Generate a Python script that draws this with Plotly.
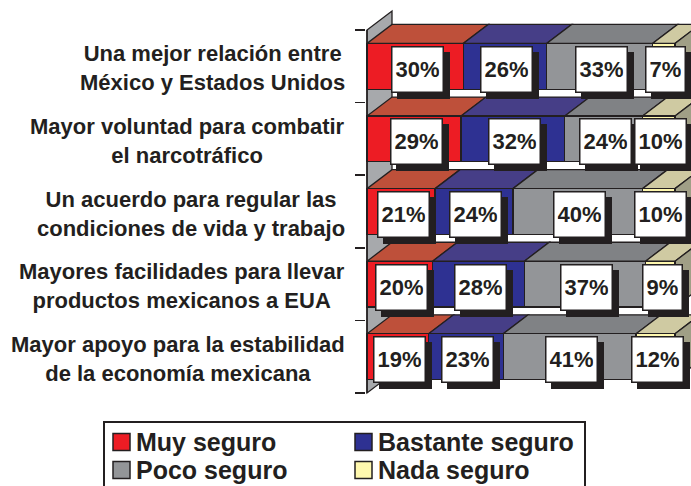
import plotly.graph_objects as go

# ---------------- data ----------------
categories = [
    "Una mejor relación entre<br>México y Estados Unidos",
    "Mayor voluntad para combatir<br>el narcotráfico",
    "Un acuerdo para regular las<br>condiciones de vida y trabajo",
    "Mayores facilidades para llevar<br>productos mexicanos a EUA",
    "Mayor apoyo para la estabilidad<br>de la economía mexicana",
]
series_names = ["Muy seguro", "Bastante seguro", "Poco seguro", "Nada seguro"]
muy_seguro = [30, 29, 21, 20, 19]
bastante_seguro = [26, 32, 24, 28, 23]
poco_seguro = [33, 24, 40, 37, 41]
nada_seguro = [7, 10, 10, 9, 12]

# ---------------- styles ----------------
front_colors = ["#ED1C24", "#2E3192", "#939598", "#FFF8AE"]
top_colors = ["#BE503A", "#463E87", "#808285", "#CFCAA2"]
side_color = "#A09F86"
wall_color = "#A7A9AC"
ink = "#231F20"
FONT = "Liberation Sans, Arial, sans-serif"

W, H = 691, 486
L_MARGIN, T_MARGIN = 366, 5
PLOT_W = W - L_MARGIN
PLOT_H = 395
PX_X = 3.08          # pixels per percent unit
PX_Y = 72.6          # pixels per category
X0_PX = 367          # pixel of 0 %
Y_TOP_PX = 30        # pixel of category boundary -0.5
xr = [-(X0_PX - L_MARGIN) / PX_X, (W - X0_PX) / PX_X]
yr = [-0.5 - (Y_TOP_PX - T_MARGIN) / PX_Y, None]
yr[1] = yr[0] + PLOT_H / PX_Y

BAR_W = 0.63
DX = 25 / PX_X       # depth offset in data units
DY = 19 / PX_Y

series = [muy_seguro, bastante_seguro, poco_seguro, nada_seguro]
n = len(categories)
ypos = list(range(n))

fig = go.Figure()
for name, vals, col in zip(series_names, series, front_colors):
    fig.add_trace(go.Bar(
        y=ypos, x=vals, orientation="h", name=name, width=BAR_W,
        marker=dict(color=col, line=dict(color=ink, width=1.3)),
        showlegend=False, hoverinfo="skip",
    ))

shapes = []
# left wall
shapes.append(dict(type="path", xref="x", yref="y", layer="below",
                   path=f"M0,{-0.5} L0,{n-0.5} L{DX},{n-0.5-DY} L{DX},{-0.5-DY} Z",
                   fillcolor=wall_color, line=dict(color=ink, width=1.3)))

annotations = []
for i in range(n):
    vals = [s[i] for s in series]
    tot = sum(vals)
    cum = 0.0
    yt = i - BAR_W / 2
    yb = i + BAR_W / 2
    for k, v in enumerate(vals):
        a = cum / tot * 100
        b = (cum + v) / tot * 100
        cum += v
        shapes.append(dict(type="path", xref="x", yref="y", layer="below",
                           path=f"M{a},{yt} L{b},{yt} L{b+DX},{yt-DY} L{a+DX},{yt-DY} Z",
                           fillcolor=top_colors[k], line=dict(color=ink, width=1.3)))
        if k == len(vals) - 1:
            shapes.append(dict(type="path", xref="x", yref="y", layer="below",
                               path=f"M{b},{yt} L{b},{yb} L{b+DX},{yb-DY} L{b+DX},{yt-DY} Z",
                               fillcolor=side_color, line=dict(color=ink, width=1.3)))
        mid = (a + b) / 2
        txt = f"{v}%"
        common = dict(x=mid, y=i, xref="x", yref="y", text=txt, showarrow=False,
                      font=dict(family=FONT, size=22, color=ink, weight="bold"),
                      borderwidth=1.5, borderpad=3, height=38)
        annotations.append(dict(common, bgcolor=ink, bordercolor=ink,
                                xshift=2 + 6, yshift=-3 - 6))
        annotations.append(dict(common, bgcolor="white", bordercolor=ink,
                                xshift=2, yshift=-3))

# front axis line
shapes.append(dict(type="line", xref="x", yref="y", x0=0, x1=0, y0=-0.5, y1=n - 0.5,
                   line=dict(color=ink, width=1.5), layer="above"))

# category labels
def paper_x(px):
    return (px - L_MARGIN) / PLOT_W

def paper_y(py):
    return (T_MARGIN + PLOT_H - py) / PLOT_H

for i, c in enumerate(categories):
    annotations.append(dict(x=paper_x(347), y=i, xref="paper", yref="y", text=c,
                            showarrow=False, xanchor="right", yanchor="middle",
                            align="center", yshift=-2,
                            font=dict(family=FONT, size=22, color=ink, weight="bold")))

# legend (manual)
shapes.append(dict(type="rect", xref="paper", yref="paper",
                   x0=paper_x(104), x1=paper_x(585), y0=paper_y(422), y1=paper_y(492),
                   line=dict(color=ink, width=2), fillcolor="white", layer="above"))
leg_pos = [(113, 442), (355, 442), (113, 470), (355, 470)]
for (lx, ly), name, col in zip(leg_pos, series_names, front_colors):
    shapes.append(dict(type="rect", xref="paper", yref="paper",
                       x0=paper_x(lx), x1=paper_x(lx + 17),
                       y0=paper_y(ly - 8.5), y1=paper_y(ly + 8.5),
                       fillcolor=col, line=dict(color=ink, width=1.5), layer="above"))
    annotations.append(dict(x=paper_x(lx + 21), y=paper_y(ly), xref="paper", yref="paper",
                            text=name, showarrow=False, xanchor="left", yanchor="middle",
                            font=dict(family=FONT, size=25, color=ink, weight="bold")))

fig.update_layout(
    width=W, height=H,
    margin=dict(l=L_MARGIN, r=0, t=T_MARGIN, b=H - T_MARGIN - PLOT_H, pad=0),
    paper_bgcolor="white", plot_bgcolor="rgba(0,0,0,0)",
    barmode="stack", barnorm="percent", bargap=0,
    showlegend=False,
    xaxis=dict(range=xr, visible=False, fixedrange=True),
    yaxis=dict(range=[yr[1], yr[0]], showgrid=False, zeroline=False, showline=False,
               tickmode="array", tickvals=[i - 0.5 for i in range(n + 1)],
               ticktext=[""] * (n + 1), ticks="outside", ticklen=10,
               tickcolor=ink, tickwidth=1.5, automargin=False, fixedrange=True),
    shapes=shapes, annotations=annotations,
)

fig.write_html(
    "out.html",
    config={"displayModeBar": False, "staticPlot": True},
    post_script="document.body.style.margin='0';document.body.style.overflow='hidden';",
)
